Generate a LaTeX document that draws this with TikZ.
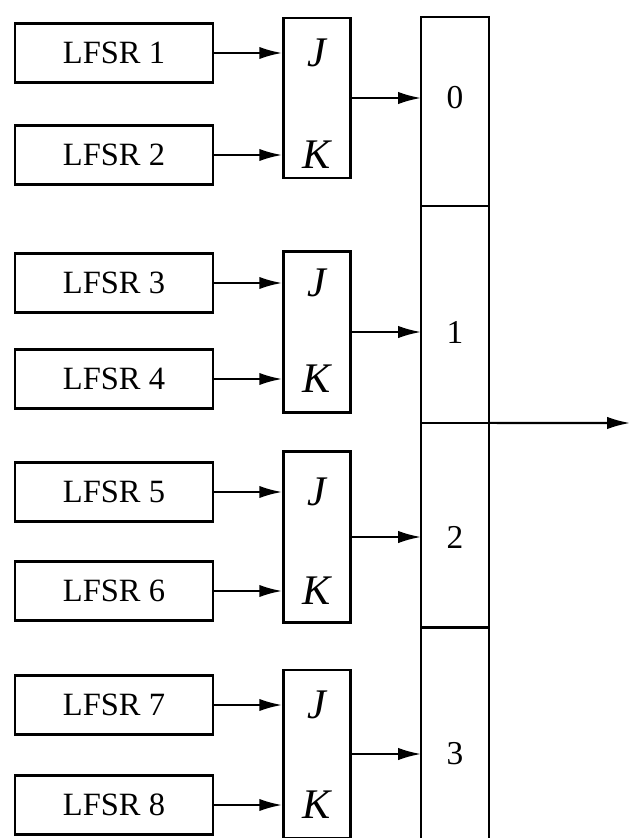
\documentclass[tikz,border=0pt]{standalone}
\usepackage{fontspec}
\setmainfont{Liberation Serif}
\usetikzlibrary{arrows.meta, positioning}

\begin{document}
\begin{tikzpicture}[
    x=0.02cm, y=-0.02cm,
    lfsr/.style={rectangle, draw, line width=1.6pt, minimum width=3.96cm, minimum height=1.18cm, font=\fontsize{18.5}{20}\selectfont},
    jk/.style={rectangle, draw, line width=1.6pt, minimum width=1.34cm},
    cell/.style={rectangle, draw, line width=1.6pt, minimum width=1.36cm, outer sep=0pt},
    pin/.style={inner sep=0pt, font=\fontsize{24}{26}\selectfont\itshape},
    digit/.style={font=\fontsize{19}{21}\selectfont},
    sig/.style={-{Latex[length=13pt, width=7pt]}, line width=1.2pt}
  ]
  \useasboundingbox (0,0) rectangle (630,838);

  % shift registers on the left
  \node[lfsr] (l1) at (114,53) {LFSR 1};
  \node[lfsr] (l2) at (114,155) {LFSR 2};
  \node[lfsr] (l3) at (114,283) {LFSR 3};
  \node[lfsr] (l4) at (114,379) {LFSR 4};
  \node[lfsr] (l5) at (114,492) {LFSR 5};
  \node[lfsr] (l6) at (114,591) {LFSR 6};
  \node[lfsr] (l7) at (114,705) {LFSR 7};
  \node[lfsr] (l8) at (114,805) {LFSR 8};

  % JK flip-flops
  \node[jk, minimum height=3.2cm] (f1) at (317,98) {};
  \node[jk, minimum height=3.22cm] (f2) at (317,332) {};
  \node[jk, minimum height=3.42cm] (f3) at (317,537) {};
  \node[jk, minimum height=3.36cm] (f4) at (317,754) {};

  \node[pin] at (f1 |- l1) {J};
  \node[pin] at (f1 |- l2) {K};
  \node[pin] at (f2 |- l3) {J};
  \node[pin] at (f2 |- l4) {K};
  \node[pin] at (f3 |- l5) {J};
  \node[pin] at (f3 |- l6) {K};
  \node[pin] at (f4 |- l7) {J};
  \node[pin] at (f4 |- l8) {K};

  % output register
  \node[cell, minimum height=3.78cm] (r0) at (455,111.5) {};
  \node[cell, minimum height=4.34cm, below=0pt of r0] (r1) {};
  \node[cell, minimum height=4.1cm, below=0pt of r1] (r2) {};
  \node[cell, minimum height=4.44cm, below=0pt of r2] (r3) {};

  \node[digit] at (r0 |- f1.east) {0};
  \node[digit] at (r1 |- f2.east) {1};
  \node[digit] at (r2 |- f3.east) {2};
  \node[digit] at (r3 |- f4.east) {3};

  % LFSR outputs into J and K
  \draw[sig] (l1) -- (l1 -| f1.west);
  \draw[sig] (l2) -- (l2 -| f1.west);
  \draw[sig] (l3) -- (l3 -| f2.west);
  \draw[sig] (l4) -- (l4 -| f2.west);
  \draw[sig] (l5) -- (l5 -| f3.west);
  \draw[sig] (l6) -- (l6 -| f3.west);
  \draw[sig] (l7) -- (l7 -| f4.west);
  \draw[sig] (l8) -- (l8 -| f4.west);

  % flip-flops into the register
  \draw[sig] (f1.east) -- (f1.east -| r0.west);
  \draw[sig] (f2.east) -- (f2.east -| r1.west);
  \draw[sig] (f3.east) -- (f3.east -| r2.west);
  \draw[sig] (f4.east) -- (f4.east -| r3.west);

  % register output
  \coordinate (out) at (630,423);
  \draw[sig] (r1.south east) -- (out);
\end{tikzpicture}
\end{document}
